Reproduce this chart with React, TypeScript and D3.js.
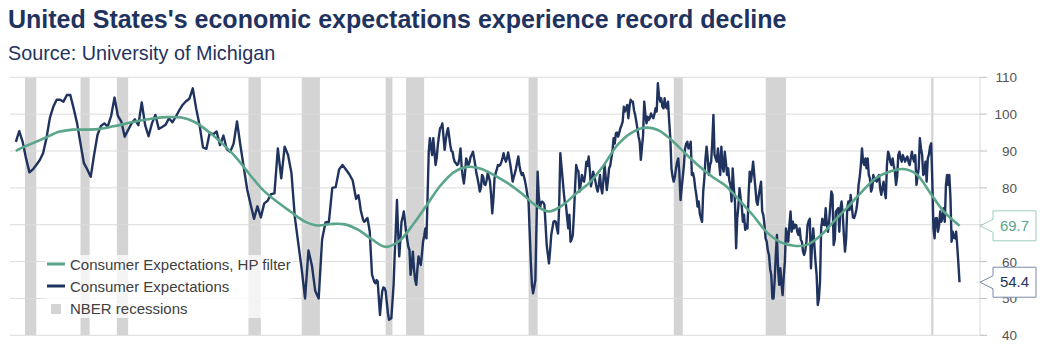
import React from 'react';
import * as d3 from 'd3';

// Consumer Expectations (quarterly readings until 1977, monthly afterwards)
const quarterlyStart = 1952.83;
const quarterlyValues = [
  92.5, 95.4, 92.5, 88, 84.2, 85, 86.2, 87.5, 89.4, 93.5, 99, 102, 103.9, 103.9, 103.4, 105.2,
  105.2, 101.5, 97.5, 92, 86.7, 85, 83, 89, 94.4, 96.8, 97.5, 96.6, 99.5, 104.5, 99.5, 98,
  93.9, 95.7, 97.5, 98.6, 97, 103.2, 97, 94, 97.5, 99.8, 96, 96.5, 97.1, 98.9, 97.8, 99.3,
  101, 102.5, 103.5, 104.2, 107, 101.5, 97, 91, 90.6, 95, 94.5, 95.3, 91.6, 94.2, 90.5, 89.8,
  92, 98, 91.5, 85.5, 79.5, 75.5, 71.6, 75, 72, 75.8, 76.5, 78.3, 78.5, 90.7, 82.6, 91.2,
  88.9, 84, 72, 65, 58, 50, 63, 59, 52, 50, 66, 70.6, 70.8, 80, 80.2, 85, 86.2, 85, 83.7, 82, 77,
];

const monthlyStart = 1978;
const monthlyValues = [
  // 1978
  78, 76.3, 74, 72.7, 71.5, 70.8, 71, 71.5, 71.8, 70, 68.1, 62,
  // 1979
  56.4, 55.5, 54.5, 54.1, 55, 54.6, 50, 45.5, 49, 51.9, 53, 52.8,
  // 1980
  52, 49, 46, 44.2, 44.4, 44.6, 49, 53.7, 62, 69, 76.7, 68,
  // 1981
  61.4, 66, 70.8, 72, 73.6, 71, 68.1, 66, 64, 63.2, 56.4, 59,
  // 1982
  62.7, 58, 55, 53.7, 58, 61.4, 60, 59.1, 62, 65.4, 67, 69,
  // 1983
  66.3, 78, 89.8, 93.5, 91, 88.9, 93.5, 90, 86.2, 88, 91.6, 94,
  // 1984
  96.2, 96.5, 97.5, 94, 90.3, 93, 95, 96.2, 94, 91.6, 90, 89.8,
  // 1985
  88, 87, 86.7, 86.2, 86.5, 88, 90.7, 85.8, 83, 81.2, 84, 88,
  // 1986
  87, 86.2, 87, 88.5, 89, 89.8, 88, 86.2, 84, 82.6, 81, 79,
  // 1987
  80, 83.5, 83, 81, 80.8, 82, 84, 83, 81.7, 78, 73.1, 77,
  // 1988
  82.6, 84, 85, 86.2, 86, 86.2, 87, 88, 89.4, 88, 87.1, 88,
  // 1989
  89.6, 88, 86.2, 84, 81.7, 83, 84, 85.3, 87, 88.5, 86, 84.4,
  // 1990
  83.5, 84, 83, 81.7, 80, 78, 76.3, 68, 60, 53.7, 51.4, 53,
  // 1991
  55, 70, 84.4, 78, 74.5, 76, 76.3, 76, 75.4, 70, 64.5, 62,
  // 1992
  59.5, 63, 67.2, 69, 70.8, 71, 70.8, 69, 67.6, 75, 89.4, 86,
  // 1993
  82.6, 79, 76, 75.4, 72, 69, 72.7, 65.4, 66, 67.2, 72.7, 80,
  // 1994
  86.2, 85, 84.4, 79, 81, 83.5, 82, 81.7, 84, 87.1, 86, 88.5,
  // 1995
  85, 80.4, 82, 84.4, 83, 81.7, 80, 79, 81, 83.5, 80, 78.5,
  // 1996
  82, 86.2, 83, 79.4, 82, 85.3, 86, 88, 90, 93.5, 92, 94.8,
  // 1997
  95, 93.9, 95, 96.2, 97, 98, 102, 100.7, 101.5, 102.5, 98.9, 102,
  // 1998
  103.9, 103.4, 103.4, 101, 99.8, 98, 96, 93.9, 92.5, 87.6, 91, 94.4,
  // 1999
  103.4, 100, 97.5, 99.3, 98.4, 99, 100.2, 99.5, 98.9, 100, 101.6, 100.7,
  // 2000
  108.4, 105, 103.4, 104.3, 102, 101.6, 104.3, 102, 101.6, 103.4, 98, 93.5,
  // 2001
  85.3, 83, 81.7, 83, 85.3, 87, 88, 84, 76.7, 79.9, 83, 86.2,
  // 2002
  90.7, 92, 92.5, 90.7, 91, 92.5, 83.5, 84, 82.6, 79.9, 78, 74.9,
  // 2003
  76.3, 73, 71.8, 70.8, 79, 82.6, 88, 91.2, 88, 83.5, 86.2, 87.1,
  // 2004
  92.5, 99.8, 89, 88, 87.1, 90.7, 87, 83.5, 91.2, 86, 84.4, 89.8,
  // 2005
  87, 83.5, 85.3, 82, 80.8, 76.3, 85.3, 80, 76.3, 63.6, 71.8, 75,
  // 2006
  79.9, 77.2, 75, 70.8, 72.7, 68.6, 70, 69, 78, 84.4, 81.7, 84,
  // 2007
  87.1, 83.5, 80, 76.3, 75.4, 78, 79.9, 81.7, 73.6, 72.7, 70, 66.3,
  // 2008
  65.4, 63, 61.8, 58, 56.4, 50, 50, 55, 61.8, 67.2, 58, 53.7,
  // 2009
  58.2, 54, 50.9, 56, 60, 69, 67, 65.4, 70, 73.6, 68.1, 70.8,
  // 2010
  69, 70, 69.9, 68, 67.2, 69, 66, 65.4, 62.7, 61.8, 63, 65.4,
  // 2011
  69.9, 71, 71.6, 58.2, 65, 69, 64.5, 60, 56.4, 48.2, 50, 54.6,
  // 2012
  69, 71.6, 70, 69.9, 74.5, 70, 68.1, 70.8, 75, 79, 78.1, 64.5,
  // 2013
  66, 73.6, 74, 74.5, 68.1, 74.5, 76.3, 73, 67.2, 62.7, 66, 74.5,
  // 2014
  76.3, 74, 78.1, 75, 72, 71.8, 72.7, 74, 76.3, 80.8, 83, 86.2,
  // 2015
  90.7, 87, 86.2, 88, 85.3, 88, 83.5, 82.6, 79, 80, 83.5, 82,
  // 2016
  82.6, 81.7, 83, 83.5, 79.9, 78.1, 80, 81.7, 79, 77.2, 86.2, 89.8,
  // 2017
  88.9, 87, 86.2, 88, 86, 84.4, 80.8, 83, 88.9, 89.8, 88, 87.1,
  // 2018
  88.9, 88, 87.1, 88, 88.5, 87, 86.2, 88, 89.8, 88, 87.1, 88.9,
  // 2019
  80.8, 83, 85.3, 93.5, 90.7, 89, 83.5, 84, 87.1, 81.7, 88, 89,
  // 2020
  91.2, 92.1, 81.7, 69, 66.3, 71.8, 71.8, 68.1, 70, 73.6, 70.8, 72,
  // 2021
  74.5, 70.8, 80.8, 83.5, 80.8, 83.5, 77.2, 65.4, 68.1, 66.5, 66.3, 68.1,
  // 2022
  64.1, 59.4, 54.4,
];

// Consumer Expectations, HP filter (read at the start of each year)
const hpYears = [
  1952.83, 1953, 1954, 1955, 1956, 1957, 1958, 1959, 1960, 1961, 1962, 1963, 1964, 1965, 1966,
  1967, 1968, 1969, 1970, 1971, 1972, 1973, 1974, 1975, 1976, 1977, 1978, 1979, 1980, 1981,
  1982, 1983, 1984, 1985, 1986, 1987, 1988, 1989, 1990, 1991, 1992, 1993, 1994, 1995, 1996,
  1997, 1998, 1999, 2000, 2001, 2002, 2003, 2004, 2005, 2006, 2007, 2008, 2009, 2010, 2011,
  2012, 2013, 2014, 2015, 2016, 2017, 2018, 2019, 2020, 2021, 2022.17,
];
const hpValues = [
  90, 90.4, 92, 93.6, 95.2, 95.8, 95.8, 96, 96.7, 97.5, 98.3, 98.9, 99.2, 99.1, 97.8,
  95.2, 92, 88.3, 83.7, 79.4, 76.3, 73.6, 71, 69.8, 70.2, 70.1, 68.6, 66, 64, 65.6,
  70, 75.2, 80.5, 84.2, 85.7, 85.2, 83.4, 81.2, 78.5, 75.3, 73.6, 75.3, 78.5, 81.5, 86,
  91.5, 94.8, 96.3, 95.7, 93, 89.4, 86, 83, 80.5, 76.6, 72.5, 68, 65.3, 64.3, 64.6,
  67.2, 71.2, 75, 79, 82.6, 84.4, 85.1, 83.7, 78.7, 73.6, 69.7,
];

// NBER recessions: start, end (fractional years)
const recessionStarts = [1953.5, 1957.58, 1960.25, 1969.92, 1973.83, 1980.0, 1981.5, 1990.5, 2001.17, 2007.92, 2020.08];
const recessionEnds = [1954.33, 1958.25, 1961.08, 1970.83, 1975.17, 1980.5, 1982.83, 1991.17, 2001.83, 2009.42, 2020.25];

const yTicks = [40, 50, 60, 70, 80, 90, 100, 110];
const legendLabels = ['Consumer Expectations, HP filter', 'Consumer Expectations', 'NBER recessions'];

const NAVY = '#1f335e';
const GREEN = '#5ba58b';
const FONT = '"Liberation Sans", Arial, Helvetica, sans-serif';

export default function App() {
  const W = 1052;
  const H = 356;
  const x = d3.scaleLinear().domain([1952.4, 2023.67]).range([10, 980]);
  const y = d3.scaleLinear().domain([40, 110]).range([335.3, 77.3]);

  const series: { t: number; v: number }[] = [
    ...quarterlyValues.map((v, i) => ({ t: quarterlyStart + i * 0.25, v })),
    ...monthlyValues.map((v, i) => ({ t: monthlyStart + i / 12, v })),
  ];
  const hp = hpYears.map((t, i) => ({ t, v: hpValues[i] }));

  const line = d3
    .line<{ t: number; v: number }>()
    .x((d) => x(d.t))
    .y((d) => y(d.v));
  const hpLine = d3
    .line<{ t: number; v: number }>()
    .x((d) => x(d.t))
    .y((d) => y(d.v))
    .curve(d3.curveCatmullRom.alpha(0.5));

  const last = series[series.length - 1];
  const lastHp = hp[hp.length - 1];

  // callout boxes cover the tick labels beneath them
  const calloutVals = [lastHp.v, last.v];
  const hiddenTick = (t: number) => calloutVals.some((v) => Math.abs(y(v) - y(t)) < 9);

  const callout = (val: number, stroke: string, color: string) => {
    const yv = y(val);
    const x0 = x.range()[1];
    const bx = x0 + 13;
    const bw = 43;
    const bh = 30;
    const top = yv - bh / 2;
    const pts = [
      [x0, yv],
      [bx, yv - 6.5],
      [bx, top],
      [bx + bw, top],
      [bx + bw, top + bh],
      [bx, top + bh],
      [bx, yv + 6.5],
    ];
    return (
      <g>
        <polygon points={pts.map((p) => p.join(',')).join(' ')} fill="#fff" stroke={stroke} strokeWidth={1} />
        <text x={bx + bw / 2} y={yv + 5} textAnchor="middle" fontSize={15} fill={color} fontFamily={FONT}>
          {val.toFixed(1)}
        </text>
      </g>
    );
  };

  return (
    <div style={{ position: 'absolute', left: 0, top: 0 }}>
      <svg width={W} height={H} style={{ display: 'block', background: '#fff' }}>
        <text x={8} y={28} fontSize={25} fontWeight="bold" fill={NAVY} fontFamily={FONT}>
          United States's economic expectations experience record decline
        </text>
        <text x={8} y={60} fontSize={19.8} fill={NAVY} fontFamily={FONT}>
          Source: University of Michigan
        </text>

        {/* recessions */}
        {recessionStarts.map((s, i) => (
          <rect key={i} x={x(s)} y={y(110)} width={x(recessionEnds[i]) - x(s)} height={y(40) - y(110)} fill="#d4d4d4" />
        ))}

        {/* gridlines */}
        {yTicks.map((t) => (
          <line key={t} x1={x.range()[0]} x2={x.range()[1]} y1={y(t)} y2={y(t)} stroke="#dcdcdc" strokeWidth={1} />
        ))}

        {/* legend background */}
        <rect x={45} y={255} width={247} height={63} fill="#fff" fillOpacity={0.75} />

        {/* lines */}
        <path d={line(series) || ''} fill="none" stroke={NAVY} strokeWidth={2.4} strokeLinejoin="round" />
        <path d={hpLine(hp) || ''} fill="none" stroke={GREEN} strokeWidth={2.6} />

        {/* right axis */}
        <line x1={980} x2={980} y1={y(110)} y2={y(40)} stroke="#d9d9d9" strokeWidth={1} />
        {yTicks.map((t) => (
          <g key={t}>
            <line x1={980} x2={987} y1={y(t)} y2={y(t)} stroke="#bfbfbf" strokeWidth={1} />
            {!hiddenTick(t) && (
              <text x={1017} y={y(t) + 5} textAnchor="end" fontSize={13.5} fill="#555" fontFamily={FONT}>
                {t}
              </text>
            )}
          </g>
        ))}

        {callout(lastHp.v, '#9ccfbd', GREEN)}
        {callout(last.v, '#7c89a6', NAVY)}

        {/* legend */}
        <g fontFamily={FONT} fontSize={15} fill="#404040">
          <line x1={47} x2={65} y1={264} y2={264} stroke={GREEN} strokeWidth={3} />
          <text x={70} y={269.5}>{legendLabels[0]}</text>
          <line x1={47} x2={65} y1={286} y2={286} stroke={NAVY} strokeWidth={3} />
          <text x={70} y={291.5}>{legendLabels[1]}</text>
          <rect x={51} y={304} width={10} height={10} fill="#d4d4d4" />
          <text x={70} y={314}>{legendLabels[2]}</text>
        </g>
      </svg>
    </div>
  );
}
